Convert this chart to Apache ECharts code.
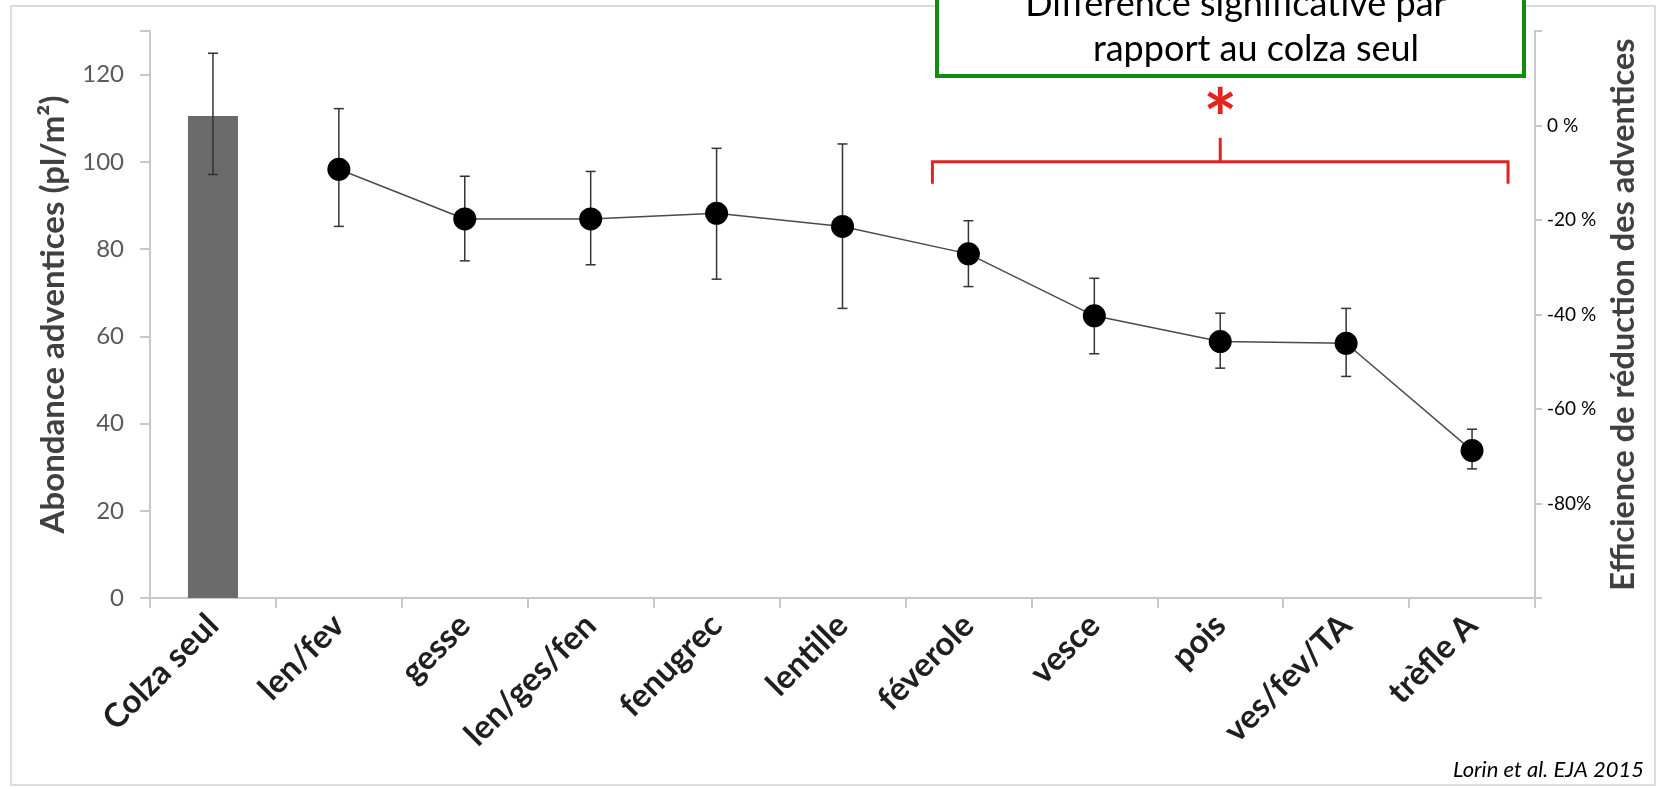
<!DOCTYPE html>
<html>
<head>
<meta charset="utf-8">
<script src="https://cdn.jsdelivr.net/npm/echarts@6/dist/echarts.min.js"></script>
<style>
html,body{margin:0;padding:0;background:#fff;}
#chart{width:1665px;height:789px;}
</style>
</head>
<body>
<div id="chart"></div>
<script>
// ---- data ----
const categories = ['Colza seul','len/fev','gesse','len/ges/fen','fenugrec','lentille','féverole','vesce','pois','ves/fev/TA','trèfle A'];
const barValues = [110.5, null, null, null, null, null, null, null, null, null, null];
const lineValues = [null, 98.3, 86.9, 86.9, 88.2, 85.2, 78.9, 64.7, 58.8, 58.4, 33.8];
const errLow  = [97.1, 85.2, 77.3, 76.4, 73.1, 66.4, 71.4, 56.0, 52.7, 50.8, 29.6];
const errHigh = [124.9, 112.2, 96.7, 97.8, 103.1, 104.1, 86.5, 73.3, 65.3, 66.4, 38.7];
const leftTicks = [0, 20, 40, 60, 80, 100, 120];
const rightTickLabels = {'0':'0 %','-20':'-20 %','-40':'-40 %','-60':'-60 %','-80':'-80%'};
const yLeftTitle = 'Abondance adventices (pl/m²)';
const yRightTitle = 'Efficience de réduction des adventices';
const boxLines = ['Différence significative par', 'rapport au colza seul'];
const bracketFrom = 'féverole', bracketTo = 'trèfle A', bracketMid = 'pois';
const bracketLevel = 100;
const sourceText = 'Lorin et al. EJA 2015';

const errData = categories.map((c, i) => [i, errLow[i], errHigh[i]]);

const chart = echarts.init(document.getElementById('chart'));
const FONT = 'Lato';
const axisGray = '#c8c8c8';

const option = {
  backgroundColor: '#ffffff',
  animation: false,
  grid: {left: 150, right: 130, top: 31, bottom: 191, outerBoundsMode: 'none'},
  xAxis: {
    type: 'category',
    data: categories,
    axisLine: {lineStyle: {color: axisGray, width: 2}},
    axisTick: {show: true, length: 10, lineStyle: {color: axisGray, width: 2}},
    axisLabel: {rotate: 45, margin: 22, fontFamily: FONT, fontWeight: 'bold', fontSize: 33, color: '#1f1f1f', interval: 0}
  },
  yAxis: [{
    type: 'value', min: 0, max: 130, interval: 20, position: 'left',
    splitLine: {show: false},
    axisLine: {show: true, lineStyle: {color: axisGray, width: 2}},
    axisTick: {show: true, length: 10, lineStyle: {color: axisGray, width: 2}},
    axisLabel: {fontFamily: FONT, fontSize: 24, color: '#595959', margin: 26,
      formatter: v => leftTicks.indexOf(v) >= 0 ? String(v) : ''},
    name: yLeftTitle, nameLocation: 'middle', nameRotate: 90, nameGap: 80,
    nameTextStyle: {fontFamily: FONT, fontWeight: 'bold', fontSize: 33, color: '#404040'}
  }, {
    type: 'value', min: -100, max: 20, interval: 20, position: 'right',
    splitLine: {show: false},
    axisLine: {show: true, lineStyle: {color: axisGray, width: 2}},
    axisTick: {show: true, length: 7, lineStyle: {color: axisGray, width: 2}},
    axisLabel: {fontFamily: FONT, fontSize: 19, color: '#000', margin: 12,
      formatter: v => rightTickLabels[String(v)] || ''},
    name: yRightTitle, nameLocation: 'middle', nameRotate: 90, nameGap: 72,
    nameTextStyle: {fontFamily: FONT, fontWeight: 'bold', fontSize: 32.5, color: '#404040'}
  }],
  series: [{
    type: 'bar', data: barValues, barWidth: 50, itemStyle: {color: '#6b6b6b'}, z: 1
  }, {
    type: 'line', data: lineValues, symbol: 'circle', symbolSize: 23,
    itemStyle: {color: '#000'}, lineStyle: {color: '#4a4a4a', width: 1.5}, z: 4
  }, {
    type: 'custom', data: errData, z: 3,
    renderItem: function (params, api) {
      const x = api.value(0);
      const lo = api.coord([x, api.value(1)]);
      const hi = api.coord([x, api.value(2)]);
      const cap = 5;
      const st = {stroke: '#333', lineWidth: 1.5};
      return {type: 'group', children: [
        {type: 'line', shape: {x1: lo[0], y1: lo[1], x2: hi[0], y2: hi[1]}, style: st},
        {type: 'line', shape: {x1: lo[0]-cap, y1: lo[1], x2: lo[0]+cap, y2: lo[1]}, style: st},
        {type: 'line', shape: {x1: hi[0]-cap, y1: hi[1], x2: hi[0]+cap, y2: hi[1]}, style: st}
      ]};
    }
  }]
};
chart.setOption(option);

// annotations positioned through the chart's own scales
const half = 36;
const xa = chart.convertToPixel({xAxisIndex: 0}, bracketFrom) - half;
const xb = chart.convertToPixel({xAxisIndex: 0}, bracketTo) + half;
const xm = chart.convertToPixel({xAxisIndex: 0}, bracketMid);
const yL = chart.convertToPixel({yAxisIndex: 0}, bracketLevel);
const red = '#e3231e';

chart.setOption({
  graphic: [
    {type: 'rect', shape: {x: 11, y: 6, width: 1644, height: 779}, style: {fill: 'none', stroke: '#dcdcdc', lineWidth: 2}, z: -1, silent: true},
    {type: 'polyline', shape: {points: [[xa, yL + 22], [xa, yL], [xb, yL], [xb, yL + 22]]}, style: {fill: 'none', stroke: red, lineWidth: 3}},
    {type: 'line', shape: {x1: xm, y1: yL, x2: xm, y2: yL - 24}, style: {stroke: red, lineWidth: 3}},
    {type: 'text', x: xm, y: yL - 40, style: {text: '*', fontFamily: FONT, fontWeight: 'bold', fontSize: 80, fill: red, align: 'center', verticalAlign: 'middle'}},
    {type: 'rect', shape: {x: 937, y: -10, width: 587, height: 86}, style: {fill: '#fff', stroke: '#138a13', lineWidth: 4}, z: 10},
    {type: 'text', x: 1236, y: 22, style: {text: boxLines[0], fontFamily: FONT, fontSize: 36, fill: '#000', align: 'center', verticalAlign: 'bottom'}, z: 11},
    {type: 'text', x: 1256, y: 67, style: {text: boxLines[1], fontFamily: FONT, fontSize: 36, fill: '#000', align: 'center', verticalAlign: 'bottom'}, z: 11},
    {type: 'text', x: 1644, y: 781, style: {text: sourceText, fontFamily: FONT, fontStyle: 'italic', fontSize: 22, fill: '#000', align: 'right', verticalAlign: 'bottom'}}
  ]
});
</script>
</body>
</html>
